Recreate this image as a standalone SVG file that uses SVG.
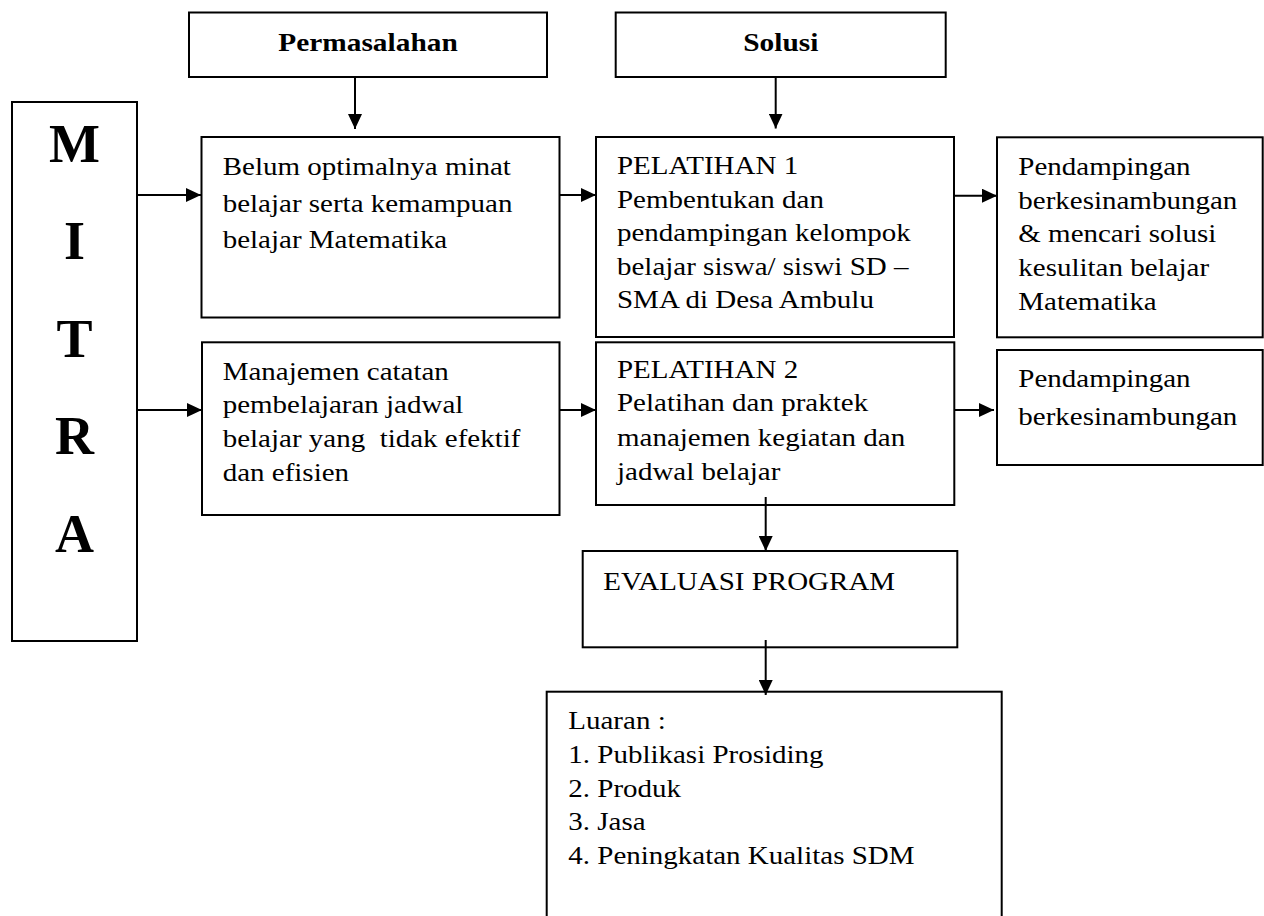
<svg xmlns="http://www.w3.org/2000/svg" width="1264" height="916" viewBox="0 0 1264 916">
<style>
.box{fill:#fff;stroke:#000;stroke-width:2}
.t{font-family:"Liberation Serif","Times New Roman",serif;font-size:25.5px;fill:#000}
.h{font-family:"Liberation Serif","Times New Roman",serif;font-size:26px;font-weight:bold;fill:#000;text-anchor:middle}
.m{font-family:"Liberation Serif","Times New Roman",serif;font-size:54px;font-weight:bold;fill:#000;text-anchor:middle}
.c{stroke:#000;stroke-width:2;fill:none;marker-end:url(#ah)}
</style>
<defs>
<marker id="ah" markerUnits="userSpaceOnUse" markerWidth="15" markerHeight="14" refX="15" refY="7" orient="auto">
<path d="M0,0 L15,7 L0,14 z" fill="#000"/>
</marker>
</defs>
<rect width="1264" height="916" fill="#fff"/>

<g id="permasalahan">
<rect class="box" x="189" y="12.5" width="358" height="64.5"/>
<text class="h" transform="translate(368,0) scale(1.13,1)"><tspan x="0" y="50.7">Permasalahan</tspan></text>
</g>

<g id="solusi">
<rect class="box" x="615.7" y="12.5" width="330" height="64.5"/>
<text class="h" transform="translate(780.8,0) scale(1.13,1)"><tspan x="0" y="50.7">Solusi</tspan></text>
</g>

<g id="mitra">
<rect class="box" x="12" y="102" width="125" height="539"/>
<text class="m" x="74.6" y="161.5">M</text>
<text class="m" x="74.6" y="259">I</text>
<text class="m" x="74.6" y="356.5">T</text>
<text class="m" x="74.6" y="454">R</text>
<text class="m" x="74.6" y="552">A</text>
</g>

<g id="belum">
<rect class="box" x="201.5" y="137" width="358" height="180.5"/>
<text class="t" transform="translate(222.7,0) scale(1.137,1)"><tspan x="0" y="175">Belum optimalnya minat</tspan><tspan x="0" y="211.7">belajar serta kemampuan</tspan><tspan x="0" y="248.3">belajar Matematika</tspan></text>
</g>

<g id="pelatihan1">
<rect class="box" x="596" y="137" width="358" height="200"/>
<text class="t" transform="translate(617,0) scale(1.137,1)"><tspan x="0" y="174.3">PELATIHAN 1</tspan><tspan x="0" y="207.8">Pembentukan dan</tspan><tspan x="0" y="241.3">pendampingan kelompok</tspan><tspan x="0" y="274.8">belajar siswa/ siswi SD –</tspan><tspan x="0" y="308.3">SMA di Desa Ambulu</tspan></text>
</g>

<g id="pendampingan1">
<rect class="box" x="997" y="137.3" width="265.7" height="200"/>
<text class="t" transform="translate(1018.3,0) scale(1.137,1)"><tspan x="0" y="175">Pendampingan</tspan><tspan x="0" y="208.7">berkesinambungan</tspan><tspan x="0" y="242.4">&amp; mencari solusi</tspan><tspan x="0" y="276.1">kesulitan belajar</tspan><tspan x="0" y="309.8">Matematika</tspan></text>
</g>

<g id="manajemen">
<rect class="box" x="202" y="342.3" width="357.5" height="172.7"/>
<text class="t" transform="translate(222.7,0) scale(1.137,1)"><tspan x="0" y="380">Manajemen catatan</tspan><tspan x="0" y="413.5">pembelajaran jadwal</tspan><tspan x="0" y="447.5" xml:space="preserve">belajar yang  tidak efektif</tspan><tspan x="0" y="481.5">dan efisien</tspan></text>
</g>

<g id="pelatihan2">
<rect class="box" x="596" y="342.3" width="358.3" height="162.7"/>
<text class="t" transform="translate(617,0) scale(1.137,1)"><tspan x="0" y="378">PELATIHAN 2</tspan><tspan x="0" y="411.5">Pelatihan dan praktek</tspan><tspan x="0" y="446">manajemen kegiatan dan</tspan><tspan x="0" y="480.5">jadwal belajar</tspan></text>
</g>

<g id="pendampingan2">
<rect class="box" x="997" y="350" width="265.7" height="115"/>
<text class="t" transform="translate(1018.3,0) scale(1.137,1)"><tspan x="0" y="386.7">Pendampingan</tspan><tspan x="0" y="425">berkesinambungan</tspan></text>
</g>

<g id="evaluasi">
<rect class="box" x="582.7" y="551" width="374.6" height="96.3"/>
<text class="t" transform="translate(603.3,0) scale(1.137,1)"><tspan x="0" y="590">EVALUASI PROGRAM</tspan></text>
</g>

<g id="luaran">
<rect class="box" x="546.7" y="691.7" width="455" height="240"/>
<text class="t" transform="translate(568.3,0) scale(1.137,1)"><tspan x="0" y="729.5">Luaran :</tspan><tspan x="0" y="763">1. Publikasi Prosiding</tspan><tspan x="0" y="796.7">2. Produk</tspan><tspan x="0" y="830.4">3. Jasa</tspan><tspan x="0" y="864">4. Peningkatan Kualitas SDM</tspan></text>
</g>

<g id="connectors">
<line class="c" x1="355" y1="77" x2="355" y2="129"/>
<line class="c" x1="775.7" y1="77" x2="775.7" y2="128.5"/>
<line class="c" x1="137" y1="195" x2="201" y2="195"/>
<line class="c" x1="137" y1="410" x2="202" y2="410"/>
<line class="c" x1="559.5" y1="195" x2="596" y2="195"/>
<line class="c" x1="559.5" y1="410" x2="596" y2="410"/>
<line class="c" x1="955" y1="195.7" x2="997" y2="195.7"/>
<line class="c" x1="954.3" y1="410" x2="994" y2="410"/>
<line class="c" x1="765.7" y1="497" x2="765.7" y2="551"/>
<line class="c" x1="765.7" y1="640" x2="765.7" y2="695"/>
</g>
</svg>
